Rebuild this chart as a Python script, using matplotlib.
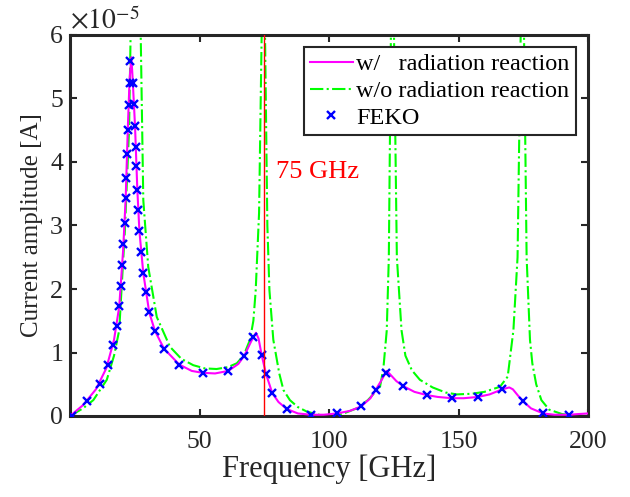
import matplotlib
matplotlib.use("Agg")
import matplotlib.pyplot as plt
import numpy as np

# ---- data (values in units of 1e-5 A) ----
f_with = [0, 5, 10, 14, 17, 19, 20.5, 21.5, 22.3, 23.0, 23.7, 24.2, 25.1, 26.0, 26.8, 28.3,
          30.6, 32.8, 36.3, 42.2, 47, 51.2, 56, 61.1, 65, 67.3, 70, 71.8, 72.8, 74.0, 75.7,
          78.1, 80.5, 83.7, 88, 93, 98, 103, 108, 112.4, 116, 118, 120.5, 122.2, 123.5, 126,
          128.7, 133, 137.7, 142, 147.5, 152, 157.5, 162, 166.9, 169.6, 171, 173, 175, 178,
          182.7, 187, 192.8, 196, 200]
a_with = [0.0, 0.17, 0.42, 0.75, 1.2, 1.72, 2.6, 3.43, 4.5, 5.3, 5.65, 5.3, 4.57, 3.56, 2.91, 2.25,
          1.63, 1.34, 1.06, 0.81, 0.71, 0.68, 0.67, 0.71, 0.82, 0.95, 1.18, 1.31, 1.22, 0.96, 0.66,
          0.36, 0.22, 0.11, 0.04, 0.02, 0.02, 0.04, 0.08, 0.15, 0.28, 0.41, 0.58, 0.71, 0.66, 0.55,
          0.47, 0.38, 0.33, 0.30, 0.28, 0.28, 0.30, 0.34, 0.42, 0.45, 0.42, 0.32, 0.23, 0.12,
          0.04, 0.02, 0.02, 0.03, 0.04]

f_without = [0, 5, 9, 14.2, 17, 19.0, 21.2, 22.8, 23.4, 25.3, 27.3, 28.3, 30.2, 33.5, 38.6, 43,
             47.6, 52, 56.6, 61, 64.4, 67, 69.5, 70.8, 71.7, 73.0, 74.0, 74.65, 75.3, 76.2, 77.0,
             78.5, 80.8, 82.4, 84.9, 88, 91.4, 96, 100, 105, 110.7, 115, 119.7, 121, 122.3, 123.1,
             123.9, 124.5, 125.1, 126.2, 128, 129.5, 132, 135.1, 140, 145, 149.3, 155, 160, 166,
             169, 171.2, 172.8, 174.0, 174.6, 175.3, 176.3, 177.6, 178.5, 180, 182, 185, 190, 195, 200]
a_without = [0.0, 0.12, 0.25, 0.57, 0.95, 1.35, 2.93, 4.5, 6.0, 100, 6.0, 3.4, 2.35, 1.56, 1.09, 0.90,
             0.80, 0.75, 0.74, 0.77, 0.83, 0.95, 1.20, 1.5, 1.98, 3.2, 6.0, 100, 6.0, 3.0, 1.98,
             1.2, 0.67, 0.41, 0.25, 0.14, 0.07, 0.02, 0.0, 0.03, 0.12, 0.25, 0.46, 0.75, 1.35, 2.5,
             6.0, 100, 6.0, 2.5, 1.35, 0.95, 0.72, 0.57, 0.45, 0.37, 0.34, 0.35, 0.38, 0.46,
             0.62, 1.35, 2.5, 6.0, 100, 6.0, 2.5, 1.2, 0.83, 0.5, 0.25, 0.1, 0.03, 0.01, 0.0]

f_feko = [0.6, 6.7, 11.6, 14.8, 16.5, 18.0, 19.0, 19.6, 20.1, 20.6, 21.1, 21.5, 21.8, 22.0, 22.3,
          22.7, 23.2, 23.3, 24.2, 24.6, 25.1, 25.5, 25.6, 26.0, 26.4, 26.8, 27.3, 28.3, 29.3,
          30.6, 32.8, 36.3, 42.2, 51.2, 61.1, 67.3, 70.5, 74.0, 75.7, 78.1, 83.7, 92.9, 103,
          112.4, 118, 121.9, 128.7, 137.7, 147.5, 157.5, 166.9, 175, 182.7, 192.8]
a_feko = [0.0, 0.24, 0.50, 0.81, 1.12, 1.42, 1.73, 2.05, 2.38, 2.71, 3.04, 3.43, 3.75, 4.13, 4.50,
          4.90, 5.25, 5.59, 5.24, 4.91, 4.57, 4.24, 3.93, 3.56, 3.24, 2.91, 2.59, 2.25, 1.95,
          1.63, 1.34, 1.06, 0.81, 0.68, 0.71, 0.95, 1.24, 0.96, 0.66, 0.36, 0.11, 0.02, 0.04,
          0.15, 0.41, 0.68, 0.47, 0.33, 0.28, 0.30, 0.42, 0.23, 0.04, 0.02]

marker_freq = 75
x_ticks = [50, 100, 150, 200]
y_ticks = [0, 1, 2, 3, 4, 5, 6]

plt.rcParams['font.family'] = ['Liberation Serif', 'DejaVu Serif']
plt.rcParams['mathtext.fontset'] = 'stix'

fig = plt.figure(figsize=(6.3, 4.97), dpi=100)
ax = fig.add_axes([70/630, 81/497, 518/630, 381/497])

ax.plot(f_with, a_with, color='#ff00ff', lw=1.5, label='w/   radiation reaction', zorder=3)
ax.plot(f_without, a_without, color='#00ff00', lw=1.5, ls='-.', label='w/o radiation reaction', zorder=2)
ax.plot(f_feko, a_feko, ls='none', marker='x', color='#0000ff', ms=6, mew=1.7, label='FEKO', zorder=4)
ax.axvline(marker_freq, color='#ff0000', lw=1.0, zorder=5)
ax.text(79.5, 3.85, '75 GHz', color='#ff0000', fontsize=19, va='center', ha='left')

ax.set_xlim(0, 200)
ax.set_ylim(0, 6)
ax.set_xticks(x_ticks)
ax.set_yticks(y_ticks)
ax.tick_params(direction='in', length=5, width=1.5, labelsize=18.5, top=True, right=True,
               colors='#262626', labelcolor='#262626')
ax.tick_params(axis='x', pad=11)
ax.tick_params(axis='y', pad=5)
for s in ax.spines.values():
    s.set_linewidth(2.2)
    s.set_color('#262626')
ax.set_xlabel('Frequency [GHz]', fontsize=22, color='#262626', labelpad=1)
ax.set_ylabel('Current amplitude [A]', fontsize=18, color='#262626', labelpad=5)
ax.text(0.0, 1.0, r'$\times 10^{-5}$', transform=ax.transAxes, fontsize=20,
        ha='left', va='bottom', color='#262626')

leg = ax.legend(loc='upper right', fontsize=17.5, frameon=True, fancybox=False,
                edgecolor='#262626', framealpha=1, handlelength=1.75, handletextpad=0.15,
                borderpad=0.25, labelspacing=0.2, borderaxespad=0.5)
leg.get_frame().set_linewidth(1.5)

fig.savefig('out.png', dpi=100)
